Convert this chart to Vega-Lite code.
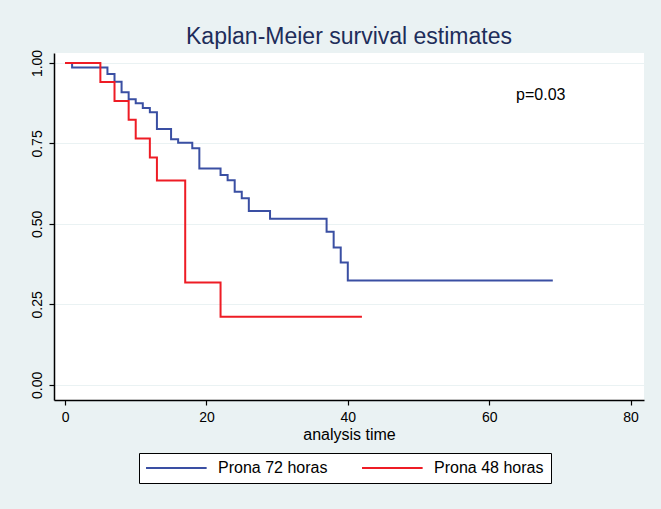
{
  "$schema": "https://vega.github.io/schema/vega-lite/v6.json",
  "width": 590,
  "height": 347,
  "autosize": {"type": "none"},
  "padding": {"left": 54, "top": 53, "right": 17, "bottom": 109},
  "background": "#eaf2f3",
  "title": {
    "text": "Kaplan-Meier survival estimates",
    "fontSize": 23,
    "font": "Liberation Sans",
    "fontWeight": "normal",
    "color": "#1e2d5a",
    "anchor": "middle",
    "offset": 0
  },
  "config": {
    "view": {"fill": "white", "stroke": null},
    "font": "Liberation Sans",
    "axis": {
      "domainColor": "black",
      "domainWidth": 1.5,
      "tickColor": "black",
      "tickWidth": 1.2,
      "tickSize": 5,
      "labelColor": "black",
      "labelFontSize": 14,
      "labelFont": "Liberation Sans",
      "titleFont": "Liberation Sans",
      "titleFontWeight": "normal",
      "titleFontSize": 16,
      "titleColor": "black",
      "gridColor": "#eaf2f3",
      "gridWidth": 1
    }
  },
  "datasets": {
    "km": [
      {"time": 0, "surv": 1.0, "group": "Prona 72 horas"},
      {"time": 1, "surv": 0.986, "group": "Prona 72 horas"},
      {"time": 6, "surv": 0.966, "group": "Prona 72 horas"},
      {"time": 7, "surv": 0.942, "group": "Prona 72 horas"},
      {"time": 8, "surv": 0.909, "group": "Prona 72 horas"},
      {"time": 9, "surv": 0.887, "group": "Prona 72 horas"},
      {"time": 10, "surv": 0.875, "group": "Prona 72 horas"},
      {"time": 11, "surv": 0.860, "group": "Prona 72 horas"},
      {"time": 12, "surv": 0.847, "group": "Prona 72 horas"},
      {"time": 13, "surv": 0.795, "group": "Prona 72 horas"},
      {"time": 15, "surv": 0.763, "group": "Prona 72 horas"},
      {"time": 16, "surv": 0.752, "group": "Prona 72 horas"},
      {"time": 18, "surv": 0.735, "group": "Prona 72 horas"},
      {"time": 19, "surv": 0.672, "group": "Prona 72 horas"},
      {"time": 22, "surv": 0.652, "group": "Prona 72 horas"},
      {"time": 23, "surv": 0.636, "group": "Prona 72 horas"},
      {"time": 24, "surv": 0.600, "group": "Prona 72 horas"},
      {"time": 25, "surv": 0.580, "group": "Prona 72 horas"},
      {"time": 26, "surv": 0.540, "group": "Prona 72 horas"},
      {"time": 29, "surv": 0.516, "group": "Prona 72 horas"},
      {"time": 37, "surv": 0.476, "group": "Prona 72 horas"},
      {"time": 38, "surv": 0.427, "group": "Prona 72 horas"},
      {"time": 39, "surv": 0.380, "group": "Prona 72 horas"},
      {"time": 40, "surv": 0.324, "group": "Prona 72 horas"},
      {"time": 69, "surv": 0.324, "group": "Prona 72 horas"},
      {"time": 0, "surv": 1.0, "group": "Prona 48 horas"},
      {"time": 5, "surv": 0.941, "group": "Prona 48 horas"},
      {"time": 7, "surv": 0.882, "group": "Prona 48 horas"},
      {"time": 9, "surv": 0.824, "group": "Prona 48 horas"},
      {"time": 10, "surv": 0.765, "group": "Prona 48 horas"},
      {"time": 12, "surv": 0.706, "group": "Prona 48 horas"},
      {"time": 13, "surv": 0.635, "group": "Prona 48 horas"},
      {"time": 17, "surv": 0.318, "group": "Prona 48 horas"},
      {"time": 22, "surv": 0.212, "group": "Prona 48 horas"},
      {"time": 42, "surv": 0.212, "group": "Prona 48 horas"}
    ],
    "note": [
      {"time": 67.3, "surv": 0.90, "label": "p=0.03"}
    ]
  },
  "layer": [
    {
      "data": {"name": "km"},
      "mark": {"type": "line", "interpolate": "step-after", "strokeWidth": 2},
      "encoding": {
        "x": {
          "field": "time",
          "type": "quantitative",
          "scale": {"domain": [-1.56, 81.9], "nice": false, "zero": false},
          "axis": {"values": [0, 20, 40, 60, 80], "title": "analysis time", "grid": false, "labelPadding": 5, "titlePadding": 2}
        },
        "y": {
          "field": "surv",
          "type": "quantitative",
          "scale": {"domain": [-0.047, 1.031], "nice": false, "zero": false},
          "axis": {"values": [0, 0.25, 0.5, 0.75, 1], "format": ".2f", "title": null, "grid": true, "labelAngle": 270, "labelAlign": "center", "labelBaseline": "bottom", "labelPadding": 5}
        },
        "color": {
          "field": "group",
          "type": "nominal",
          "scale": {"domain": ["Prona 72 horas", "Prona 48 horas"], "range": ["#3a4fa3", "#ee1c25"]},
          "legend": {
            "title": null,
            "orient": "none",
            "legendX": 85,
            "legendY": 400,
            "direction": "horizontal",
            "strokeColor": "black",
            "fillColor": "white",
            "padding": 7,
            "symbolType": "M-1.14,0H7.52",
            "symbolSize": 196,
            "symbolStrokeWidth": 2,
            "labelFontSize": 16,
            "labelColor": "black",
            "labelFont": "Liberation Sans",
            "labelOffset": 56,
            "columnPadding": 30
          }
        }
      }
    },
    {
      "data": {"name": "note"},
      "mark": {"type": "text", "fontSize": 16, "font": "Liberation Sans", "color": "black", "align": "center", "baseline": "middle"},
      "encoding": {
        "x": {"field": "time", "type": "quantitative"},
        "y": {"field": "surv", "type": "quantitative"},
        "text": {"field": "label"}
      }
    }
  ]
}
